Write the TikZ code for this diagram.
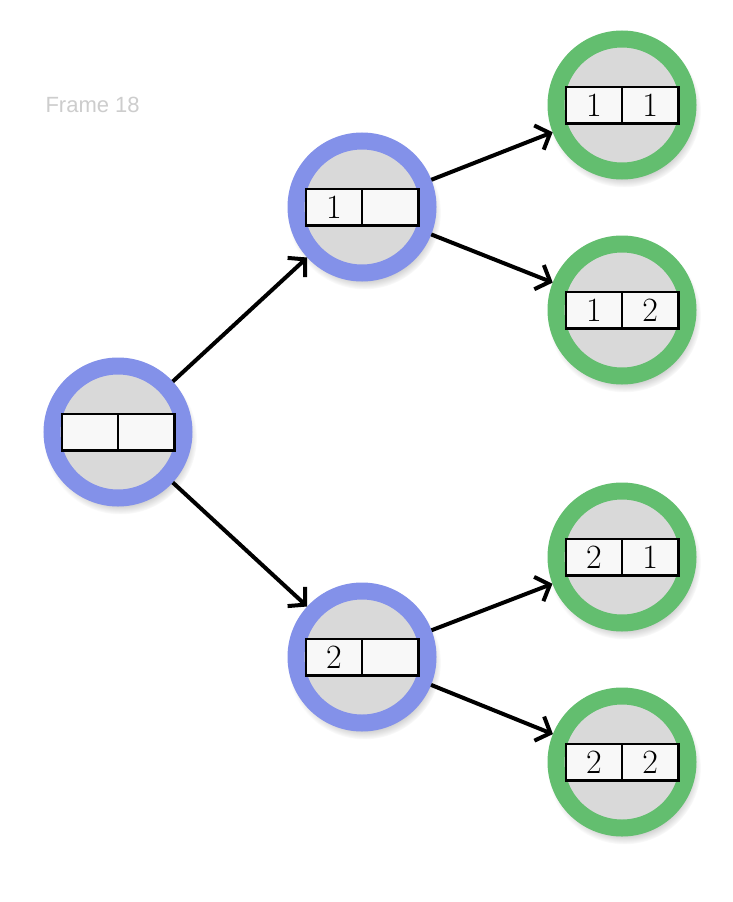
\documentclass[tikz,border=0pt]{standalone}
\usepackage{fontspec}
\setsansfont{Liberation Sans}
\usepackage{xcolor}
\usepackage{tikz}
\usetikzlibrary{positioning, arrows.meta, shadows}
\definecolor{ringblue}{RGB}{131, 145, 233}
\definecolor{ringgreen}{RGB}{99, 190, 111}
\definecolor{stategray}{RGB}{217, 217, 217}
\definecolor{cellwhite}{RGB}{248, 248, 248}
\definecolor{framegray}{RGB}{205, 205, 205}
\tikzset{
  state/.style={
    circle, line width=17pt, fill=stategray,
    minimum size=132pt, inner sep=0pt,
    circular drop shadow={shadow scale=1.16, shadow xshift=2pt,
                          shadow yshift=-5pt, opacity=0.45},
  },
  partial/.style={state, draw=ringblue},
  full/.style={state, draw=ringgreen},
  cell/.style={
    draw=black, line width=2.5pt, fill=cellwhite,
    minimum width=56.25pt, minimum height=36.5pt,
    inner sep=0pt, outer sep=0pt,
    font=\fontsize{34}{38}\selectfont,
  },
  move/.style={draw=black, line width=4pt,
    -{Straight Barb[length=12pt, width=26pt]}},
}

\begin{document}
\begin{tikzpicture}[x=1pt, y=-1pt]
\useasboundingbox[fill=white] (0,0) rectangle (732,902);

\node[anchor=west, text=framegray, font=\sffamily\fontsize{22}{26}\selectfont]
  (title) at (42,105) {Frame 18};

% levels of the tree
\node[partial] (root) at (118,432) {};
\node[partial] (s1) at (362,207) {};
\node[partial] (s2) at (362,657) {};
\node[full] (s11) at (622,105) {};
\node[full] (s12) at (622,310) {};
\node[full] (s21) at (622,557) {};
\node[full] (s22) at (622,762) {};

% two-slot boxes
\node[cell, anchor=east] (root-a) at (root) {};
\node[cell, right=0pt of root-a] (root-b) {};
\node[cell, anchor=east] (s1-a) at (s1) {1};
\node[cell, right=0pt of s1-a] (s1-b) {};
\node[cell, anchor=east] (s2-a) at (s2) {2};
\node[cell, right=0pt of s2-a] (s2-b) {};
\node[cell, anchor=east] (s11-a) at (s11) {1};
\node[cell, right=0pt of s11-a] (s11-b) {1};
\node[cell, anchor=east] (s12-a) at (s12) {1};
\node[cell, right=0pt of s12-a] (s12-b) {2};
\node[cell, anchor=east] (s21-a) at (s21) {2};
\node[cell, right=0pt of s21-a] (s21-b) {1};
\node[cell, anchor=east] (s22-a) at (s22) {2};
\node[cell, right=0pt of s22-a] (s22-b) {2};

\draw[move] (root) -- (s1);
\draw[move] (root) -- (s2);
\draw[move] (s1) -- (s11);
\draw[move] (s1) -- (s12);
\draw[move] (s2) -- (s21);
\draw[move] (s2) -- (s22);

\end{tikzpicture}
\end{document}
